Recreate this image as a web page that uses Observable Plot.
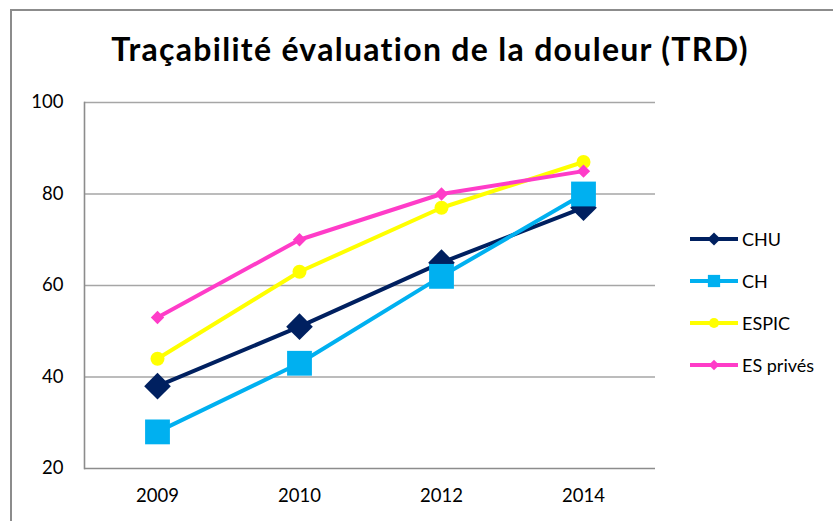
<!DOCTYPE html>
<html>
<head>
<meta charset="utf-8">
<script src="https://cdn.jsdelivr.net/npm/d3@7"></script>
<script src="https://cdn.jsdelivr.net/npm/@observablehq/plot@0.6"></script>
<style>
  html, body { margin: 0; padding: 0; background: #fff; }
  #wrap { position: relative; width: 833px; height: 521px; overflow: hidden; font-family: Lato, "Open Sans", sans-serif; }
  #border { position: absolute; left: 10px; top: 9px; width: 900px; height: 600px; border-left: 2px solid #8c8c8c; border-top: 2px solid #8c8c8c; }
  #title { position: absolute; left: 0; width: 860px; top: 33px; line-height: 32px; text-align: center; font-weight: bold; font-size: 32px; letter-spacing: 1.3px; color: #000; white-space: nowrap; }
  #legend { position: absolute; left: 688px; top: 218px; }
  .item { display: flex; align-items: center; height: 42px; font-size: 18px; color: #000; }
  .item svg { margin-right: 2px; }
  #chart { position: absolute; left: 0; top: 0; }
</style>
</head>
<body>
<div id="wrap">
  <div id="border"></div>
  <div id="chart"></div>
  <div id="title">Traçabilité évaluation de la douleur (TRD)</div>
  <div id="legend"></div>
</div>
<script>
const years = ["2009", "2010", "2012", "2014"];
const seriesNames = ["CHU", "CH", "ESPIC", "ES privés"];
const chu = [38, 51, 65, 77];
const ch = [28, 43, 62, 80];
const espic = [44, 63, 77, 87];
const esPrives = [53, 70, 80, 85];
const yTicks = [20, 40, 60, 80, 100];

const seriesValues = [chu, ch, espic, esPrives];
const colors = ["#002060", "#00B0F0", "#FFFF00", "#FF3CC8"];
const symbols = ["diamond2", "square", "circle", "diamond2"];
const radii = [12, 14, 7, 6];

const rows = seriesNames.map((name, i) =>
  years.map((year, j) => ({ series: name, year, value: seriesValues[i][j] }))
);

const seriesMarks = rows.flatMap((data, i) => [
  Plot.line(data, { x: "year", y: "value", stroke: colors[i], strokeWidth: 4 }),
  Plot.dot(data, { x: "year", y: "value", fill: colors[i], symbol: () => symbols[i], r: radii[i], stroke: "none" })
]);

const chart = Plot.plot({
  width: 833,
  height: 521,
  marginLeft: 84,
  marginRight: 178,
  marginTop: 102,
  marginBottom: 53,
  x: { type: "point", domain: years, padding: 0.5, label: null },
  y: { domain: [20, 100], ticks: yTicks, label: null },
  symbol: { type: "identity" },
  style: { fontFamily: "Lato, 'Open Sans', sans-serif", fontSize: "18.5px", color: "#000", background: "transparent", overflow: "visible" },
  marks: [
    Plot.ruleY(yTicks.slice(1), { stroke: "#a6a6a6", strokeWidth: 1.3 }),
    Plot.ruleY([20], { stroke: "#8c8c8c", strokeWidth: 1.6 }),
    Plot.frame({ anchor: "left", stroke: "#8c8c8c", strokeWidth: 1.6 }),
    Plot.axisY({ ticks: yTicks, tickSize: 0, tickPadding: 21, fill: "#000" }),
    Plot.axisX({ tickSize: 0, tickPadding: 20, fill: "#000" }),
    ...seriesMarks
  ]
});
document.getElementById("chart").appendChild(chart);

// legend
const legendSym = [{ t: d3.symbolDiamond2, s: 110 }, { t: d3.symbolSquare, s: 150 }, { t: d3.symbolCircle, s: 80 }, { t: d3.symbolDiamond2, s: 70 }];
const legend = d3.select("#legend");
seriesNames.forEach((name, i) => {
  const item = legend.append("div").attr("class", "item");
  const svg = item.append("svg").attr("width", 52).attr("height", 20);
  svg.append("line").attr("x1", 2).attr("x2", 50).attr("y1", 10).attr("y2", 10)
    .attr("stroke", colors[i]).attr("stroke-width", 4);
  svg.append("path").attr("transform", "translate(26,10)")
    .attr("d", d3.symbol(legendSym[i].t, legendSym[i].s)()).attr("fill", colors[i]);
  item.append("span").text(name);
});
</script>
</body>
</html>
